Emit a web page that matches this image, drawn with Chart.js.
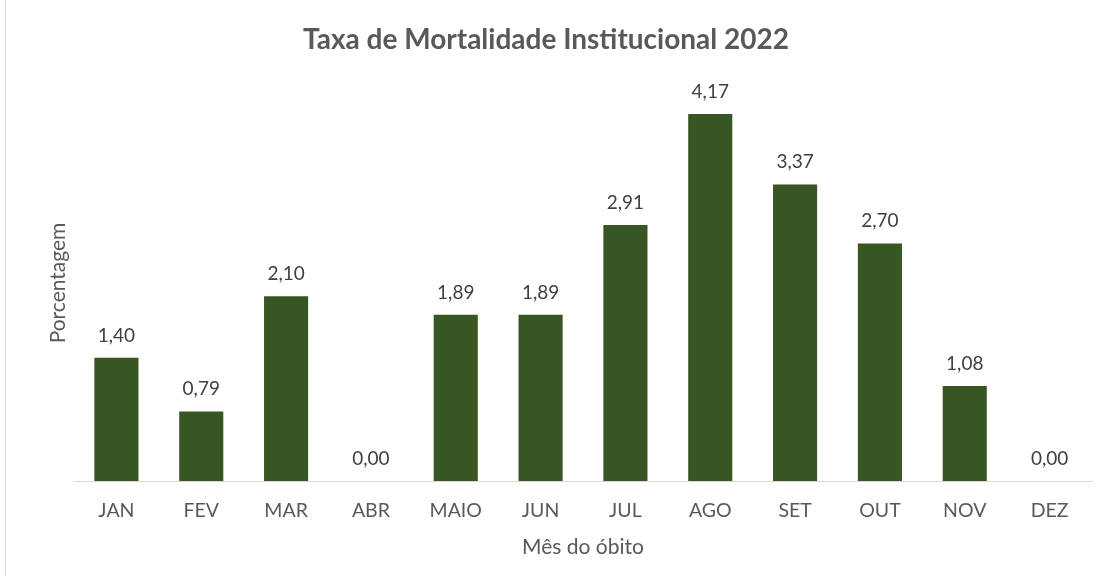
<!DOCTYPE html>
<html>
<head>
<meta charset="utf-8">
<script src="https://cdn.jsdelivr.net/npm/chart.js@4/dist/chart.umd.min.js"></script>
<style>
  html, body { margin: 0; padding: 0; background: #fff; }
  #wrap { width: 1117px; height: 576px; position: relative; }
</style>
</head>
<body>
<div id="wrap"><canvas id="c" width="1117" height="576"></canvas></div>
<script>
const categories = ['JAN', 'FEV', 'MAR', 'ABR', 'MAIO', 'JUN', 'JUL', 'AGO', 'SET', 'OUT', 'NOV', 'DEZ'];
const values = [1.40, 0.79, 2.10, 0.00, 1.89, 1.89, 2.91, 4.17, 3.37, 2.70, 1.08, 0.00];
const chartTitle = 'Taxa de Mortalidade Institucional 2022';
const xTitle = 'Mês do óbito';
const yTitle = 'Porcentagem';

const TEXT = '#595959';
const FONT = "Lato, 'Open Sans', sans-serif";

const valueLabels = {
  id: 'valueLabels',
  afterDatasetsDraw(chart) {
    const ctx = chart.ctx;
    const meta = chart.getDatasetMeta(0);
    ctx.save();
    ctx.font = "19px " + FONT;
    ctx.fillStyle = '#404040';
    ctx.textAlign = 'center';
    ctx.textBaseline = 'alphabetic';
    meta.data.forEach((el, i) => {
      const v = chart.data.datasets[0].data[i];
      ctx.fillText(v.toFixed(2).replace('.', ','), el.x, el.y - 16);
    });
    ctx.restore();
  }
};

const frame = {
  id: 'frame',
  beforeDraw(chart) {
    const ctx = chart.ctx;
    ctx.save();
    ctx.fillStyle = '#ffffff';
    ctx.fillRect(0, 0, chart.width, chart.height);
    ctx.strokeStyle = '#d9d9d9';
    ctx.lineWidth = 1;
    ctx.beginPath();
    ctx.moveTo(5.5, 0);
    ctx.lineTo(5.5, chart.height);
    ctx.stroke();
    ctx.restore();
  }
};

new Chart(document.getElementById('c'), {
  type: 'bar',
  data: {
    labels: categories,
    datasets: [{
      data: values,
      backgroundColor: '#375623',
      borderWidth: 0,
      barPercentage: 0.52,
      categoryPercentage: 1.0
    }]
  },
  options: {
    responsive: false,
    animation: false,
    devicePixelRatio: 1,
    layout: { padding: { left: 0, right: 25, top: 0, bottom: 0 } },
    plugins: {
      legend: { display: false },
      tooltip: { enabled: false },
      title: {
        display: true,
        text: chartTitle,
        color: TEXT,
        font: { family: FONT, size: 28, weight: 'bold', lineHeight: 1.2 },
        padding: { top: 23, bottom: 28.4 }
      }
    },
    scales: {
      x: {
        grid: { display: false, drawTicks: false },
        border: { display: true, color: '#d9d9d9', width: 1 },
        ticks: { color: TEXT, font: { family: FONT, size: 19.5 }, padding: 18, maxRotation: 0, autoSkip: false },
        title: { display: true, text: xTitle, color: TEXT, font: { family: FONT, size: 21 }, padding: { top: 0, bottom: 16.4 } },
        afterFit(scale) { scale.height = 95; }
      },
      y: {
        min: 0,
        max: 4.5,
        grid: { display: false, drawTicks: false },
        border: { display: false },
        ticks: { display: false },
        title: { display: true, text: yTitle, color: TEXT, font: { family: FONT, size: 21 }, padding: { top: 45.4, bottom: 0 } },
        afterFit(scale) { scale.width = 74; }
      }
    }
  },
  plugins: [frame, valueLabels]
});
</script>
</body>
</html>
